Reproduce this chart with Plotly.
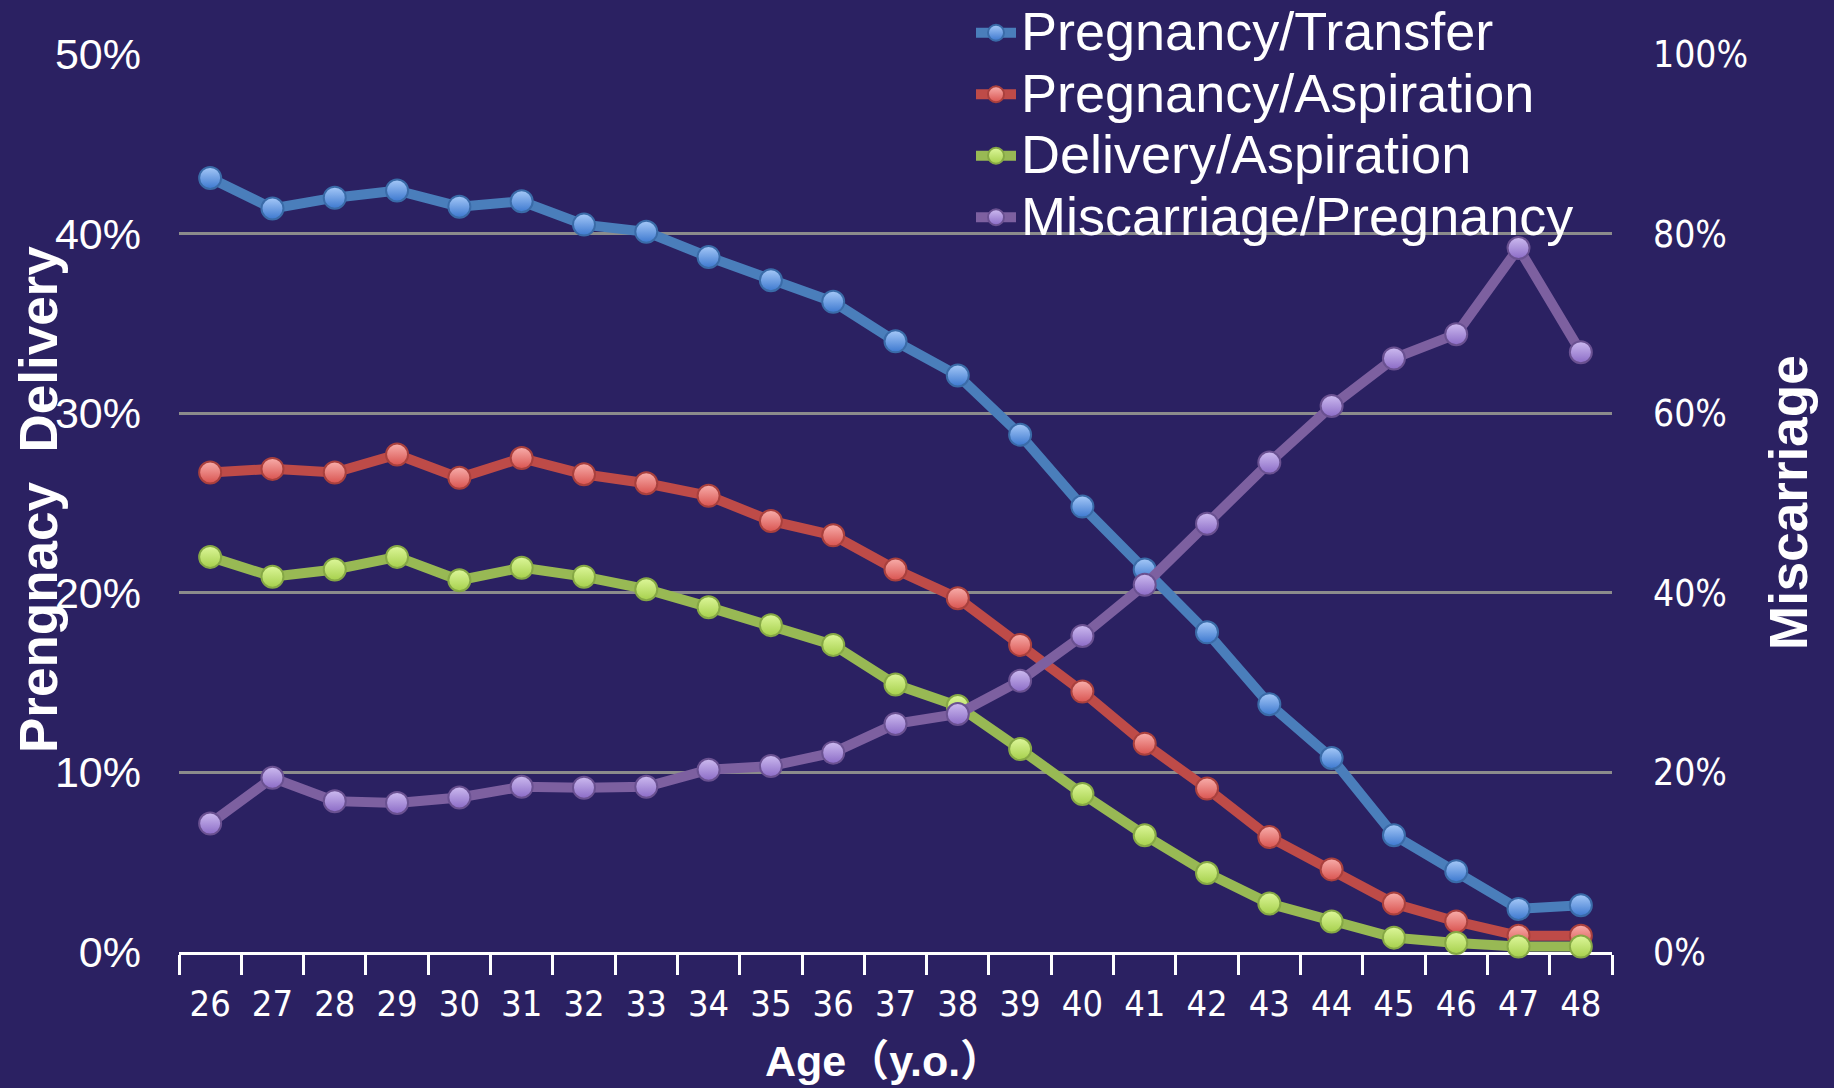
import plotly.graph_objects as go

ages = [str(a) for a in range(26, 49)]

preg_transfer = [43.1, 41.4, 42.0, 42.4, 41.5, 41.8, 40.5, 40.1, 38.7, 37.4, 36.2, 34.0,
                 32.1, 28.8, 24.8, 21.3, 17.8, 13.8, 10.8, 6.5, 4.5, 2.4, 2.6]
preg_aspiration = [26.7, 26.9, 26.7, 27.7, 26.4, 27.5, 26.6, 26.1, 25.4, 24.0, 23.2, 21.3,
                   19.7, 17.1, 14.5, 11.6, 9.1, 6.4, 4.6, 2.7, 1.7, 0.9, 0.9]
deliv_aspiration = [22.0, 20.9, 21.3, 22.0, 20.7, 21.4, 20.9, 20.2, 19.2, 18.2, 17.1, 14.9,
                    13.7, 11.3, 8.8, 6.5, 4.4, 2.7, 1.7, 0.8, 0.5, 0.3, 0.3]
miscarriage = [14.3, 19.4, 16.8, 16.6, 17.2, 18.4, 18.3, 18.4, 20.3, 20.7, 22.2, 25.4,
               26.5, 30.2, 35.2, 40.9, 47.7, 54.5, 60.8, 66.1, 68.8, 78.4, 66.8]

left_ticks = [0, 0.1, 0.2, 0.3, 0.4, 0.5]
right_ticks = [0, 0.2, 0.4, 0.6, 0.8, 1.0]

BG = "#2B2162"

series = [
    ("Pregnancy/Transfer", preg_transfer, "y", "#4A7EBB", "#A6C9F8", "#3C78CF", "#3A6BA8"),
    ("Pregnancy/Aspiration", preg_aspiration, "y", "#BE4B48", "#F8AEAB", "#D9534F", "#A9403D"),
    ("Delivery/Aspiration", deliv_aspiration, "y", "#98B954", "#DDF79A", "#A6D04C", "#86A845"),
    ("Miscarriage/Pregnancy", miscarriage, "y2", "#7D60A0", "#CDBBF0", "#8B6BC6", "#6A5191"),
]

fig = go.Figure()
for name, vals, yax, lc, top, bot, edge in series:
    fig.add_trace(go.Scatter(
        x=ages, y=[v / 100 for v in vals],
        name="<span style='font-size:54px'>%s</span>" % name,
        yaxis=yax,
        mode="lines+markers",
        line=dict(color=lc, width=10),
        marker=dict(size=22, color=top, line=dict(color=edge, width=2),
                    gradient=dict(type="vertical", color=bot)),
        cliponaxis=False,
    ))

L, R, T, B = 179, 222, 54, 136
W, H = 1834, 1088
pw = W - L - R
ph = H - T - B

def px_x(px):
    return (px - L) / pw

def px_y(py):
    return (H - B - py) / ph

fig.update_layout(
    width=W, height=H,
    margin=dict(l=L, r=R, t=T, b=B, autoexpand=False),
    paper_bgcolor=BG, plot_bgcolor=BG,
    showlegend=True,
    legend=dict(
        x=px_x(971), y=px_y(-3), xanchor="left", yanchor="top",
        bgcolor="rgba(0,0,0,0)",
        font=dict(family="Liberation Sans, Arial, sans-serif", size=45, color="white"),
        itemwidth=40, tracegroupgap=0,
    ),
    xaxis=dict(
        type="category", range=[-0.5, 22.5],
        showline=True, linecolor="white", linewidth=2.5,
        ticks="outside", tickson="boundaries", ticklen=20, tickwidth=2.5, tickcolor="white",
        tickfont=dict(family="DejaVu Sans Condensed, Open Sans, sans-serif", size=36, color="white"),
        ticklabelstandoff=18,
        showgrid=False, layer="below traces",
    ),
    yaxis=dict(
        range=[0, 0.5], tickvals=left_ticks, tickformat=".0%",
        showgrid=True, gridcolor="#8C8C8C", gridwidth=2.5,
        zeroline=False, showline=False, ticks="",
        tickfont=dict(family="Liberation Sans, Arial, sans-serif", size=43, color="white"),
        ticklabelstandoff=37,
    ),
    yaxis2=dict(
        range=[0, 1.0], tickvals=right_ticks, tickformat=".0%",
        overlaying="y", side="right", showgrid=False, zeroline=False,
        showline=False, ticks="",
        tickfont=dict(family="DejaVu Sans Condensed, Open Sans, sans-serif", size=37, color="white"),
        ticklabelstandoff=40,
    ),
    annotations=[
        dict(text="<b>Prengnacy  Delivery</b>", xref="paper", yref="paper",
             x=px_x(39), y=px_y(500), textangle=-90, showarrow=False,
             xanchor="center", yanchor="middle",
             font=dict(family="Liberation Sans, Arial, sans-serif", size=53, color="white")),
        dict(text="<b>Miscarriage</b>", xref="paper", yref="paper",
             x=px_x(1788), y=px_y(502), textangle=-90, showarrow=False,
             xanchor="center", yanchor="middle",
             font=dict(family="Liberation Sans, Arial, sans-serif", size=53, color="white")),
        dict(text="<b>Age（y.o.）</b>", xref="paper", yref="paper",
             x=px_x(884), y=px_y(1061), showarrow=False,
             xanchor="center", yanchor="middle",
             font=dict(family="Liberation Sans, Noto Sans CJK SC, sans-serif", size=43, color="white")),
    ],
)

fig.write_html("out.html",
               config={"displayModeBar": False},
               post_script="document.body.style.margin='0';document.body.style.overflow='hidden';")
